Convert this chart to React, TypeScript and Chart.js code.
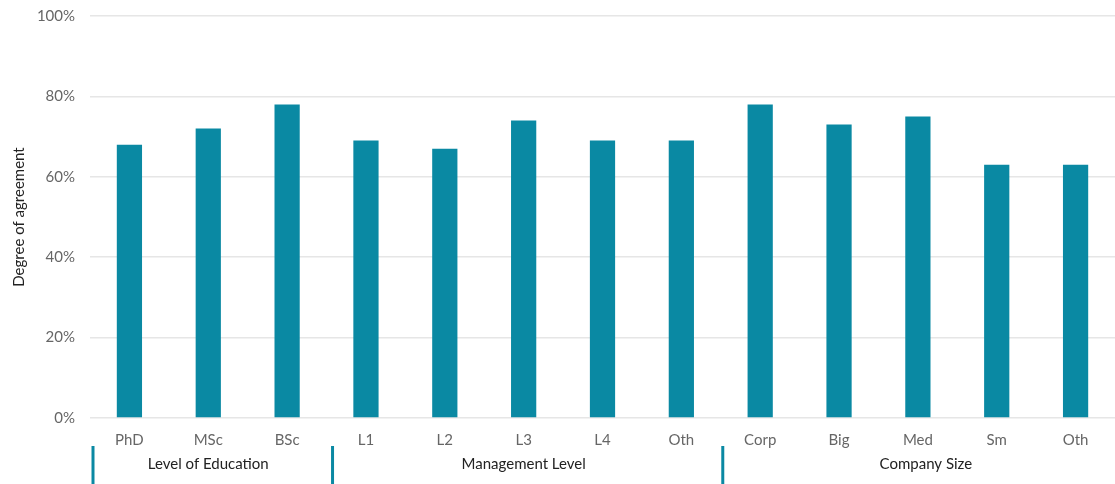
import React, { useEffect, useRef } from "react";
import { Chart, registerables } from "chart.js";

Chart.register(...registerables);

const categories = ["PhD", "MSc", "BSc", "L1", "L2", "L3", "L4", "Oth", "Corp", "Big", "Med", "Sm", "Oth"];
const agreement = [68, 72, 78, 69, 67, 74, 69, 69, 78, 73, 75, 63, 63];
const groupNames = ["Level of Education", "Management Level", "Company Size"];
const groupStarts = [0, 3, 8];
const groupEnds = [2, 7, 12];
const yTicks = [0, 20, 40, 60, 80, 100];

const FONT = "Lato, 'Open Sans', sans-serif";
const TEAL = "#0a89a3";

const groupPlugin = {
  id: "groupLabels",
  afterDraw(chart: any) {
    const x = chart.scales.x;
    const ctx = chart.ctx;
    const h = chart.height;
    ctx.save();
    ctx.font = `15px ${FONT}`;
    ctx.fillStyle = "#222";
    ctx.textAlign = "center";
    ctx.textBaseline = "middle";
    groupNames.forEach((name, i) => {
      const left = x.getPixelForValue(groupStarts[i] - 0.5);
      const right = x.getPixelForValue(groupEnds[i] + 0.5);
      const shift = i === 2 ? 8 : 0;
      ctx.fillText(name, (left + right) / 2 + shift, 464);
      ctx.strokeStyle = TEAL;
      ctx.lineWidth = 3;
      const lx = i === 0 ? left + 3 : left + (i === 1 ? 6 : 2);
      ctx.beginPath();
      ctx.moveTo(lx, 446);
      ctx.lineTo(lx, h);
      ctx.stroke();
    });
    ctx.restore();
  },
};

export default function App() {
  const ref = useRef<HTMLCanvasElement>(null);
  useEffect(() => {
    document.body.style.margin = "0";
    const chart = new Chart(ref.current!, {
      type: "bar",
      data: {
        labels: categories,
        datasets: [
          {
            data: agreement,
            backgroundColor: TEAL,
            barPercentage: 0.8,
            categoryPercentage: 0.4,
          },
        ],
      },
      options: {
        animation: false,
        responsive: false,
        maintainAspectRatio: false,
        layout: { padding: { top: 16, right: 0, bottom: 0, left: 0 } },
        plugins: { legend: { display: false }, tooltip: { enabled: false } },
        scales: {
          x: {
            grid: { display: false },
            border: { display: false },
            ticks: { font: { family: FONT, size: 15 }, color: "#666", padding: 5, maxRotation: 0, autoSkip: false },
            afterFit(scale: any) {
              scale.height = 66;
              scale.paddingTop = 0;
              scale.paddingBottom = 0;
              scale.paddingLeft = 0;
              scale.paddingRight = 0;
            },
          },
          y: {
            min: 0,
            max: 100,
            afterBuildTicks(scale: any) {
              scale.ticks = yTicks.map((v) => ({ value: v }));
            },
            grid: { color: "#e6e6e6", lineWidth: 1.5, drawTicks: false },
            border: { display: false },
            ticks: {
              font: { family: FONT, size: 15 },
              color: "#666",
              padding: 15,
              callback: (v: any) => `${v}%`,
            },
            title: {
              display: true,
              text: "Degree of agreement",
              font: { family: FONT, size: 15 },
              color: "#222",
              padding: { top: 10, bottom: 0 },
            },
            afterFit(scale: any) {
              scale.width = 90;
              scale.paddingTop = 0;
              scale.paddingBottom = 0;
            },
          },
        },
      },
      plugins: [groupPlugin],
    });
    return () => chart.destroy();
  }, []);
  return (
    <div style={{ width: 1115, height: 484 }}>
      <canvas ref={ref} width={1115} height={484} style={{ display: "block" }} />
    </div>
  );
}
